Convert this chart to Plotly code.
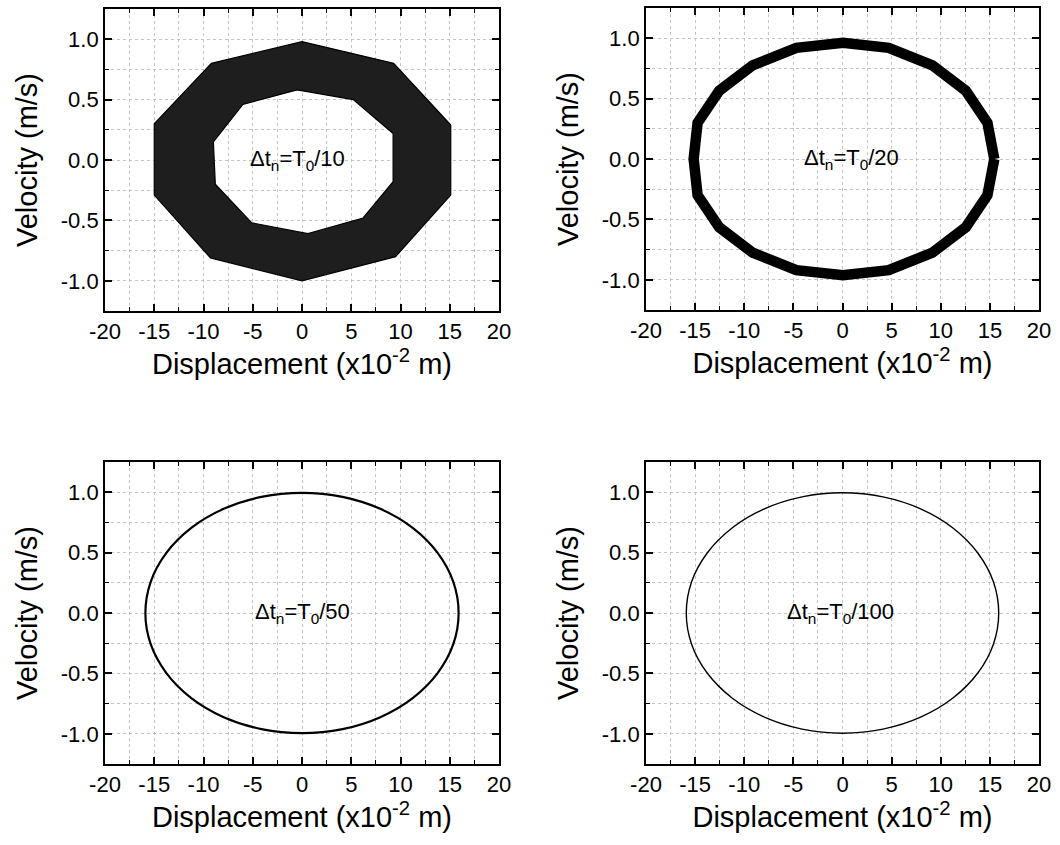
import plotly.graph_objects as go

# ---------------- data ----------------
# dt = T0/10 : outer and inner decagon envelopes of the spiralling orbit band
tl_outer_x = [15.1, 9.3, 0.0, -9.2, -15.0, -15.0, -9.3, 0.0, 9.5, 15.1]
tl_outer_y = [0.29, 0.80, 0.98, 0.80, 0.30, -0.29, -0.81, -1.00, -0.80, -0.29]
tl_inner_x = [9.25, 5.2, -0.5, -6.0, -9.0, -8.8, -5.1, 0.6, 6.2, 9.25]
tl_inner_y = [0.22, 0.50, 0.58, 0.46, 0.15, -0.20, -0.52, -0.61, -0.48, -0.18]

# dt = T0/20 : 20-gon orbit (band centre line)
tr_x = [15.45, 14.75, 12.55, 9.15, 4.7, 0.05, -4.7, -9.15, -12.55, -14.75,
        -15.15, -14.75, -12.55, -9.15, -4.7, 0.05, 4.7, 9.15, 12.55, 14.75]
tr_y = [0.0, 0.30, 0.565, 0.775, 0.92, 0.962, 0.92, 0.775, 0.565, 0.30,
        0.0, -0.30, -0.565, -0.775, -0.92, -0.962, -0.92, -0.775, -0.565, -0.30]

# dt = T0/50 : near-ellipse orbit
bl_x = [15.9, 15.36, 13.77, 11.24, 7.95, 4.12, 0.0, -4.12, -7.95, -11.24, -13.77, -15.36,
        -15.9, -15.36, -13.77, -11.24, -7.95, -4.12, 0.0, 4.12, 7.95, 11.24, 13.77, 15.36]
bl_y = [0.0, 0.258, 0.497, 0.704, 0.862, 0.961, 0.995, 0.961, 0.862, 0.704, 0.497, 0.258,
        0.0, -0.258, -0.497, -0.704, -0.862, -0.961, -0.995, -0.961, -0.862, -0.704, -0.497, -0.258]

# dt = T0/100 : near-ellipse orbit
br_x = [15.9, 15.36, 13.77, 11.24, 7.95, 4.12, 0.0, -4.12, -7.95, -11.24, -13.77, -15.36,
        -15.9, -15.36, -13.77, -11.24, -7.95, -4.12, 0.0, 4.12, 7.95, 11.24, 13.77, 15.36]
br_y = [0.0, 0.258, 0.497, 0.704, 0.862, 0.961, 0.995, 0.961, 0.862, 0.704, 0.497, 0.258,
        0.0, -0.258, -0.497, -0.704, -0.862, -0.961, -0.995, -0.961, -0.862, -0.704, -0.497, -0.258]

x_tick_vals = [-20, -15, -10, -5, 0, 5, 10, 15, 20]
x_tick_text = ["-20", "-15", "-10", "-5", "0", "5", "10", "15", "20"]
y_tick_vals = [-1.0, -0.5, 0.0, 0.5, 1.0]
y_tick_text = ["-1.0", "-0.5", "0.0", "0.5", "1.0"]

labels = ["\u0394t<sub>n</sub>=T<sub>0</sub>/10", "\u0394t<sub>n</sub>=T<sub>0</sub>/20",
          "\u0394t<sub>n</sub>=T<sub>0</sub>/50", "\u0394t<sub>n</sub>=T<sub>0</sub>/100"]
label_x = [-0.5, 0.9, 0.1, -0.2]

FONT = "Liberation Sans, Arial, sans-serif"
W, H = 1060, 845

# panel boxes in pixels (left, right, top, bottom)
boxes = [(105, 499, 9, 311), (646, 1039, 8, 310), (105, 499, 462, 764), (646, 1039, 462, 764)]

fig = go.Figure()

def close(a):
    return list(a) + [a[0]]

# panel 1: filled band between outer and inner decagons + outlines
ox, oy = close(tl_outer_x), close(tl_outer_y)
ix, iy = close(tl_inner_x), close(tl_inner_y)
fig.add_trace(go.Scatter(x=ox + ix[::-1] + [ox[0]], y=oy + iy[::-1] + [oy[0]],
                         mode="lines", fill="toself", fillcolor="rgb(30,30,30)",
                         line=dict(width=0), xaxis="x", yaxis="y", showlegend=False,
                         hoverinfo="skip"))
fig.add_trace(go.Scatter(x=ox, y=oy, mode="lines", line=dict(color="black", width=1.2),
                         xaxis="x", yaxis="y", showlegend=False))
fig.add_trace(go.Scatter(x=ix, y=iy, mode="lines", line=dict(color="black", width=1.2),
                         xaxis="x", yaxis="y", showlegend=False))

# panel 2
fig.add_trace(go.Scatter(x=close(tr_x), y=close(tr_y), mode="lines",
                         line=dict(color="black", width=10.5),
                         xaxis="x2", yaxis="y2", showlegend=False))
# panel 3
fig.add_trace(go.Scatter(x=close(bl_x), y=close(bl_y), mode="lines",
                         line=dict(color="black", width=2.2, shape="spline", smoothing=1.0),
                         xaxis="x3", yaxis="y3", showlegend=False))
# panel 4
fig.add_trace(go.Scatter(x=close(br_x), y=close(br_y), mode="lines",
                         line=dict(color="black", width=1.4, shape="spline", smoothing=1.0),
                         xaxis="x4", yaxis="y4", showlegend=False))

layout = dict(width=W, height=H, margin=dict(l=0, r=0, t=0, b=0),
              paper_bgcolor="white", plot_bgcolor="white",
              font=dict(family=FONT, color="black"), showlegend=False)

grid_col = "#c4c4c4"
for i, (l, r, t, b) in enumerate(boxes):
    sfx = "" if i == 0 else str(i + 1)
    xa = dict(domain=[l / W, r / W], anchor="y" + sfx, range=[-20, 20],
              tickmode="array", tickvals=x_tick_vals, ticktext=x_tick_text,
              ticks="inside", ticklen=7, tickwidth=1.5, tickcolor="black",
              showline=True, linecolor="black", linewidth=1.8, mirror="allticks",
              showgrid=True, gridcolor=grid_col, griddash="dot", gridwidth=1,
              zeroline=False, tickfont=dict(size=22, family=FONT),
              minor=dict(dtick=2.5, tick0=0, ticks="inside", ticklen=4, tickwidth=1.2,
                         tickcolor="black", showgrid=True, gridcolor=grid_col,
                         griddash="dot", gridwidth=1),
              title=dict(text="Displacement (x10<sup>-2</sup> m)", font=dict(size=29, family=FONT),
                         standoff=0),
              automargin=False, fixedrange=True)
    ya = dict(domain=[1 - b / H, 1 - t / H], anchor="x" + sfx, range=[-1.25, 1.25],
              tickmode="array", tickvals=y_tick_vals, ticktext=y_tick_text,
              ticks="inside", ticklen=7, tickwidth=1.5, tickcolor="black",
              showline=True, linecolor="black", linewidth=1.8, mirror="allticks",
              showgrid=True, gridcolor=grid_col, griddash="dot", gridwidth=1,
              zeroline=False, tickfont=dict(size=22, family=FONT),
              minor=dict(dtick=0.25, tick0=0, ticks="inside", ticklen=4, tickwidth=1.2,
                         tickcolor="black", showgrid=True, gridcolor=grid_col,
                         griddash="dot", gridwidth=1),
              title=dict(text="Velocity (m/s)", font=dict(size=29, family=FONT), standoff=15),
              automargin=False, fixedrange=True)
    layout["xaxis" + sfx] = xa
    layout["yaxis" + sfx] = ya

fig.update_layout(**layout)

for i in range(4):
    sfx = "" if i == 0 else str(i + 1)
    fig.add_annotation(x=label_x[i], y=0, xref="x" + sfx, yref="y" + sfx, text=labels[i],
                       showarrow=False, font=dict(size=22, family=FONT, color="black"))

fig.write_html("out.html")
